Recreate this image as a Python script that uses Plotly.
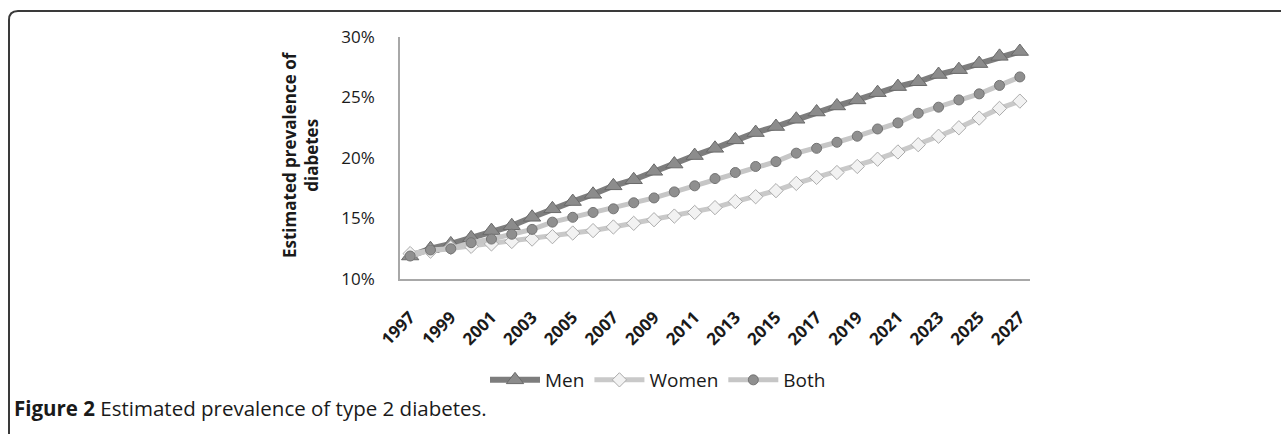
import plotly.graph_objects as go

years = [str(y) for y in range(1997, 2028)]
tick_years = [str(y) for y in range(1997, 2028, 2)]

men = [11.9, 12.5, 12.9, 13.4, 14.0, 14.4, 15.1, 15.8, 16.4, 17.0, 17.7, 18.2, 18.9, 19.5, 20.2,
       20.8, 21.5, 22.1, 22.6, 23.2, 23.8, 24.3, 24.8, 25.4, 25.9, 26.3, 26.9, 27.3, 27.8, 28.4, 28.8]
women = [12.1, 12.3, 12.6, 12.7, 12.9, 13.1, 13.3, 13.5, 13.8, 14.0, 14.3, 14.6, 14.9, 15.2, 15.5,
         15.9, 16.4, 16.8, 17.3, 17.9, 18.4, 18.8, 19.3, 19.9, 20.5, 21.1, 21.8, 22.5, 23.3, 24.1, 24.7]
both = [11.9, 12.4, 12.5, 13.0, 13.3, 13.7, 14.1, 14.7, 15.1, 15.5, 15.8, 16.3, 16.7, 17.2, 17.7,
        18.3, 18.8, 19.3, 19.7, 20.4, 20.8, 21.3, 21.8, 22.4, 22.9, 23.7, 24.2, 24.8, 25.3, 26.0, 26.7]

W, H = 1281, 434
L, R, T, B = 400, 1030, 37, 279

def px(x):
    return (x - L) / (R - L)

def py(y):
    return (B - y) / (B - T)

FONT = "Open Sans"
TXT = "#1a1a1a"

fig = go.Figure()
fig.add_trace(go.Scatter(
    x=years, y=men, name="Men", mode="lines+markers",
    line=dict(color="#7d7d7d", width=6),
    marker=dict(symbol="triangle-up", size=15, color="#8c8c8c", line=dict(color="#6a6a6a", width=1)),
))
fig.add_trace(go.Scatter(
    x=years, y=women, name="Women", mode="lines+markers",
    line=dict(color="#c9c9c9", width=5),
    marker=dict(symbol="diamond", size=11, color="#f2f2f2", line=dict(color="#ababab", width=1)),
))
fig.add_trace(go.Scatter(
    x=years, y=both, name="Both", mode="lines+markers",
    line=dict(color="#c6c6c6", width=5),
    marker=dict(symbol="circle", size=10, color="#8f8f8f", line=dict(color="#747474", width=1)),
))

# frame with rounded top-left corner
r = 9
x0, x1 = px(9), px(W + 5)
ytop, ybot = py(11), py(H + 5)
path = (f"M {x0},{ybot} L {x0},{py(11 + r)} Q {x0},{ytop} {px(9 + r)},{ytop} L {x1},{ytop}")
fig.add_shape(type="path", path=path, xref="paper", yref="paper",
              line=dict(color="#3a3a3a", width=2))

fig.add_annotation(
    text="Estimated prevalence of<br>diabetes", textangle=-90,
    xref="paper", yref="paper", x=px(300), y=py(155), showarrow=False,
    xanchor="center", yanchor="middle",
    font=dict(family=FONT, size=17, color=TXT, weight="bold"),
)
fig.add_annotation(
    text="<b>Figure 2</b> Estimated prevalence of type 2 diabetes.",
    xref="paper", yref="paper", x=px(12), y=py(408), showarrow=False,
    xanchor="left", yanchor="middle",
    font=dict(family=FONT, size=20.5, color=TXT),
)

fig.update_layout(
    width=W, height=H,
    margin=dict(l=L, r=W - R, t=T, b=H - B, autoexpand=False),
    paper_bgcolor="white", plot_bgcolor="white",
    font=dict(family=FONT, color=TXT),
    showlegend=True,
    legend=dict(orientation="h", x=px(658), y=py(380), xanchor="center", yanchor="middle",
                font=dict(family=FONT, size=19, color=TXT),
                itemwidth=50, tracegroupgap=0, bgcolor="rgba(0,0,0,0)"),
    xaxis=dict(type="category", categoryorder="array", categoryarray=years,
               range=[-0.5, len(years) - 0.5],
               tickmode="array", tickvals=tick_years, ticktext=tick_years,
               tickangle=-45, showgrid=False, zeroline=False,
               showline=True, linecolor="#a8a8a8", linewidth=1.5,
               ticks="", ticklabelstandoff=20,
               tickfont=dict(family=FONT, size=17, color=TXT, weight="bold")),
    yaxis=dict(range=[10, 30], tickmode="array", tickvals=[10, 15, 20, 25, 30],
               ticktext=["10%", "15%", "20%", "25%", "30%"],
               showgrid=False, zeroline=False,
               showline=True, linecolor="#a8a8a8", linewidth=1.5,
               ticks="", ticklabelstandoff=20,
               tickfont=dict(family=FONT, size=17, color=TXT)),
)

fig.write_html("out.html", config={"displayModeBar": False},
               post_script="document.body.style.margin='0';document.body.style.overflow='hidden';")
